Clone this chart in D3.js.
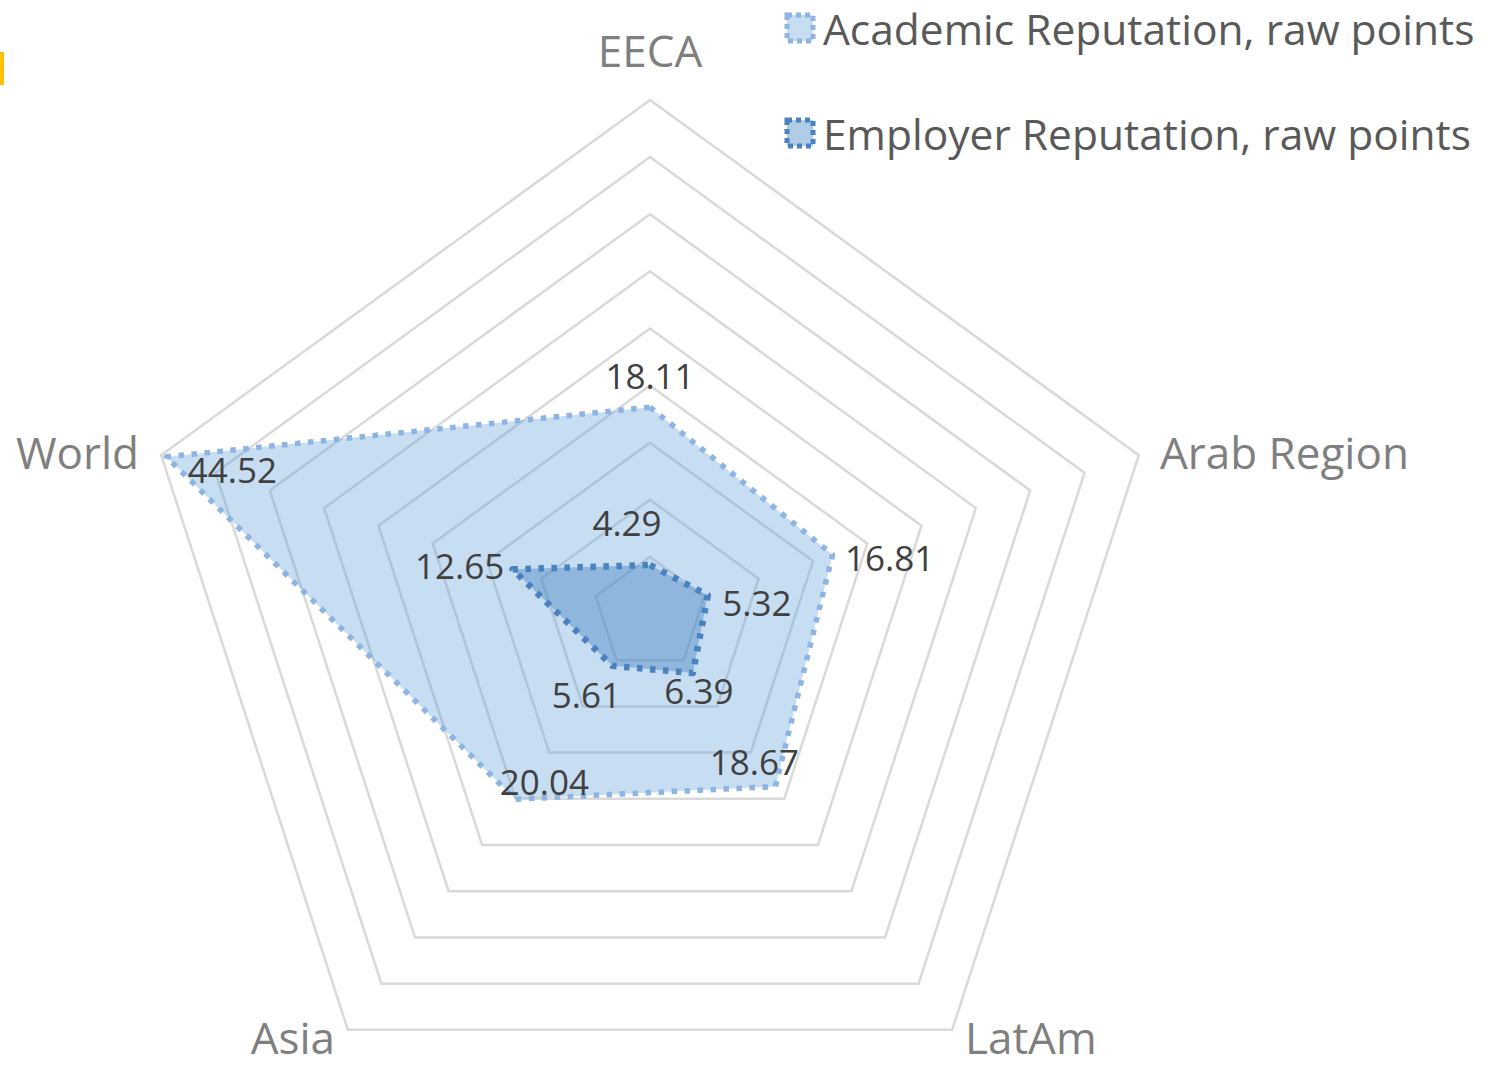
<!DOCTYPE html>
<html>
<head>
<meta charset="utf-8">
<script src="https://cdn.jsdelivr.net/npm/d3@7"></script>
<style>
  body { margin: 0; background: #fff; }
  svg { display: block; font-family: "Open Sans", sans-serif; }
  .axis-label { fill: #7f7f7f; font-size: 44px; }
  .data-label { fill: #404040; font-size: 35px; }
  .legend-label { fill: #595959; font-size: 42.5px; }
</style>
</head>
<body>
<svg id="chart"></svg>
<script>
// data
const regions = ['EECA', 'Arab Region', 'LatAm', 'Asia', 'World'];
const academic = [18.11, 16.81, 18.67, 20.04, 44.52];
const employer = [4.29, 5.32, 6.39, 5.61, 12.65];
const seriesNames = ['Academic Reputation, raw points', 'Employer Reputation, raw points'];
const gridTicks = [5, 10, 15, 20, 25, 30, 35, 40, 45];

const width = 1502, height = 1067;
const cx = 650, cy = 614, R = 514;

const svg = d3.select('#chart')
    .attr('width', width)
    .attr('height', height);

// little yellow mark at the left edge
svg.append('rect')
    .attr('x', 0).attr('y', 52)
    .attr('width', 4).attr('height', 33)
    .attr('fill', '#ffc000');

const rScale = d3.scaleLinear().domain([0, 45]).range([0, R]);
const angle = d3.scalePoint().domain(regions).range([0, 2 * Math.PI * 4 / 5]);

const chart = svg.append('g')
    .attr('transform', `translate(${cx},${cy})`);

const pt = (region, v) => {
  const a = angle(region) - Math.PI / 2;
  return [rScale(v) * Math.cos(a), rScale(v) * Math.sin(a)];
};

const line = d3.line().curve(d3.curveLinearClosed);

// grid rings
chart.selectAll('.ring')
    .data(gridTicks)
  .join('path')
    .attr('class', 'ring')
    .attr('d', t => line(regions.map(r => pt(r, t))))
    .attr('fill', 'none')
    .attr('stroke', '#d9d9d9')
    .attr('stroke-width', 2.5);

const series = [
  {name: seriesNames[0], values: academic, fill: 'rgba(91,155,213,0.34)', stroke: '#8db4e2', sw: 5.5},
  {name: seriesNames[1], values: employer, fill: 'rgba(60,128,196,0.4)', stroke: '#4a82c0', sw: 6.5}
];

chart.selectAll('.area')
    .data(series)
  .join('path')
    .attr('class', 'area')
    .attr('d', s => line(regions.map((r, i) => pt(r, s.values[i]))))
    .attr('fill', s => s.fill)
    .attr('stroke', s => s.stroke)
    .attr('stroke-width', s => s.sw)
    .attr('stroke-dasharray', '5.5 7.5')
    .attr('stroke-linejoin', 'round');

// label nudges (Excel places them around the point)
const academicOffsets = [[0, -32], [57, 3], [-21, -25], [29, -18], [66, 13]];
const employerOffsets = [[-23, -43], [49, 7], [6, 17], [-26, 29], [-53, -4]];

const addLabels = (values, offsets) => {
  chart.append('g').selectAll('text')
      .data(values)
    .join('text')
      .attr('class', 'data-label')
      .attr('x', (v, i) => pt(regions[i], v)[0] + offsets[i][0])
      .attr('y', (v, i) => pt(regions[i], v)[1] + offsets[i][1])
      .attr('text-anchor', 'middle')
      .attr('dominant-baseline', 'central')
      .text(v => v.toFixed(2));
};
addLabels(academic, academicOffsets);
addLabels(employer, employerOffsets);

// category labels
const catPos = [[650, 50, 'middle'], [1160, 452, 'start'], [965, 1037, 'start'], [335, 1037, 'end'], [139, 452, 'end']];
svg.append('g').selectAll('text')
    .data(regions)
  .join('text')
    .attr('class', 'axis-label')
    .attr('x', (d, i) => catPos[i][0])
    .attr('y', (d, i) => catPos[i][1])
    .attr('text-anchor', (d, i) => catPos[i][2])
    .attr('dominant-baseline', 'central')
    .text(d => d);

// legend
const legend = svg.append('g').selectAll('g')
    .data(series)
  .join('g')
    .attr('transform', (d, i) => `translate(785,${28 + i * 105})`);

legend.append('rect')
    .attr('x', 2).attr('y', -13)
    .attr('width', 26).attr('height', 26)
    .attr('fill', d => d.fill)
    .attr('stroke', d => d.stroke)
    .attr('stroke-width', 5)
    .attr('stroke-dasharray', '5 4');

legend.append('text')
    .attr('class', 'legend-label')
    .attr('x', 38)
    .attr('y', 0)
    .attr('dominant-baseline', 'central')
    .text(d => d.name);
</script>
</body>
</html>
